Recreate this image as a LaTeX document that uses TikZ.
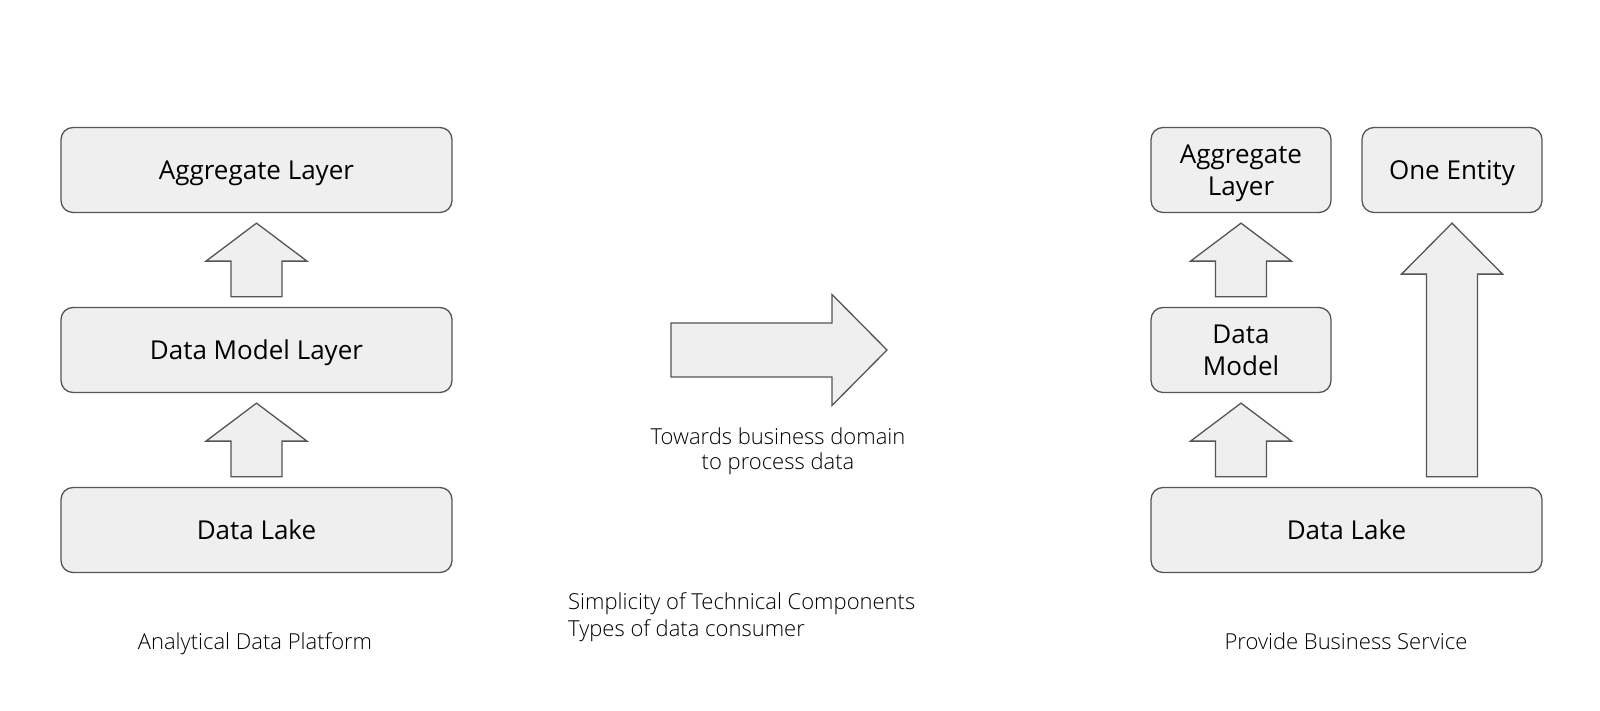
\documentclass[tikz,border=0pt]{standalone}
\usepackage{fontspec}
\setmainfont{Open Sans}
\newfontfamily\lightfont{Open Sans Light}
\usepackage{tikz}
\usetikzlibrary{calc}

\definecolor{boxfill}{HTML}{EFEFEF}
\definecolor{boxline}{HTML}{555555}

% box text, set a little below the middle of the box
\newcommand{\layertext}[1]{\raisebox{-3pt}[\height][\depth]{\begin{tabular}{@{}c@{}}#1\end{tabular}}}

\tikzset{
  layerbox/.style={draw=boxline, fill=boxfill, line width=1.3pt, rounded corners=12pt,
    minimum height=85pt, inner sep=0pt, font=\fontsize{26}{32}\selectfont},
  blockarrow/.style={draw=boxline, fill=boxfill, line width=1.3pt},
  caption/.style={draw=none, inner sep=0pt, font=\lightfont\fontsize{22}{27}\selectfont}
}

% up arrow between two boxes: lower node, upper node, head length
\newcommand{\blockup}[3]{%
  \draw[blockarrow] let \p1=(#1.north), \p2=(#2.south) in
    (\x2-25.5pt,\y1+10pt) -- (\x2-25.5pt,\y2-10pt-#3) -- (\x2-50.5pt,\y2-10pt-#3)
    -- (\x2,\y2-10pt) -- (\x2+50.5pt,\y2-10pt-#3) -- (\x2+25.5pt,\y2-10pt-#3)
    -- (\x2+25.5pt,\y1+10pt) -- cycle;}

\begin{document}
\begin{tikzpicture}[x=1pt,y=1pt]

\fill[white] (0,0) rectangle (1600,711);
\useasboundingbox (0,0) rectangle (1600,711);

% left stack
\node [layerbox, minimum width=391pt] (agg) at (256.5,541) {\layertext{Aggregate Layer}};
\node [layerbox, minimum width=391pt] (dml) at (256.5,361) {\layertext{Data Model Layer}};
\node [layerbox, minimum width=391pt] (lake) at (256.5,181) {\layertext{Data Lake}};
\blockup{dml}{agg}{38pt}
\blockup{lake}{dml}{38pt}
\node [caption, anchor=base] (platform) at (255,61.5) {Analytical Data Platform};

% middle arrow
\draw[blockarrow] (671,388) -- (832,388) -- (832,416.5) -- (887,361) -- (832,305.5)
  -- (832,334) -- (671,334) -- cycle;
\node [caption, align=center, font=\lightfont\fontsize{22}{25}\selectfont] (towards) at (778,259.5)
  {Towards business domain\\to process data};
\node [caption, align=left, anchor=west] (simple) at (568,94)
  {Simplicity of Technical Components\\Types of data consumer};

% right stack
\node [layerbox, minimum width=180pt] (ragg) at (1241,541) {\layertext{Aggregate\\Layer}};
\node [layerbox, minimum width=180pt] (entity) at (1452,541) {\layertext{One Entity}};
\node [layerbox, minimum width=180pt] (rdm) at (1241,361) {\layertext{Data\\Model}};
\node [layerbox, minimum width=391pt] (rlake) at (1346.5,181) {\layertext{Data Lake}};
\blockup{rdm}{ragg}{38pt}
\blockup{rlake}{rdm}{38pt}
\blockup{rlake}{entity}{51pt} % long one to the entity
\node [caption, anchor=base] (service) at (1346,61.5) {Provide Business Service};

\end{tikzpicture}
\end{document}
